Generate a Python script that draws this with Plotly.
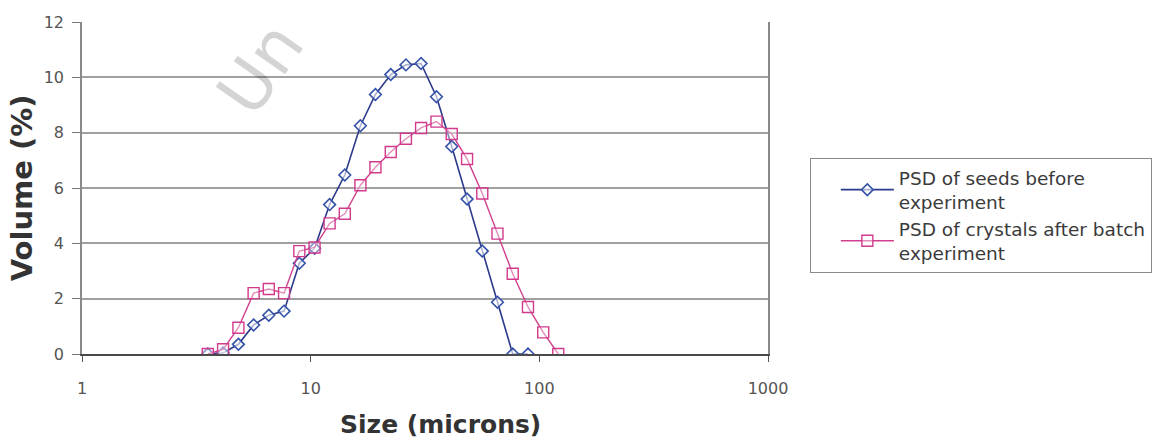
import plotly.graph_objects as go

# Particle size bins (microns)
sizes = [3.55, 4.14, 4.83, 5.63, 6.56, 7.65, 8.92, 10.4, 12.1, 14.1, 16.5, 19.2,
         22.4, 26.1, 30.4, 35.5, 41.4, 48.3, 56.3, 65.6, 76.5, 89.2, 104, 121]

# Volume fraction (%) for the seeds before the experiment (first 22 bins)
seeds_volume = [0, 0.04, 0.35, 1.05, 1.4, 1.55, 3.28, 3.82, 5.4, 6.47, 8.25, 9.38,
                10.1, 10.45, 10.5, 9.3, 7.5, 5.6, 3.72, 1.87, 0, 0]

# Volume fraction (%) for the crystals after the batch experiment
crystals_volume = [0, 0.17, 0.95, 2.2, 2.35, 2.2, 3.72, 3.85, 4.72, 5.07, 6.1, 6.75,
                   7.3, 7.78, 8.17, 8.4, 7.95, 7.05, 5.8, 4.35, 2.9, 1.7, 0.78, 0]

x_ticks = [1, 10, 100, 1000]
y_ticks = [0, 2, 4, 6, 8, 10, 12]

FONT = "DejaVu Sans"

fig = go.Figure()

fig.add_trace(go.Scatter(
    x=sizes[:len(seeds_volume)], y=seeds_volume,
    mode="lines+markers",
    name="PSD of seeds before<br>experiment",
    line=dict(color="#2b3a8a", width=1.6),
    marker=dict(symbol="diamond", size=9, color="rgba(255,255,255,0.6)",
                line=dict(color="#3552a8", width=1.6)),
))

fig.add_trace(go.Scatter(
    x=sizes, y=crystals_volume,
    mode="lines+markers",
    name="PSD of crystals after batch<br>experiment",
    line=dict(color="#d0408e", width=1.4),
    marker=dict(symbol="square", size=11, color="rgba(255,255,255,0.4)",
                line=dict(color="#d23a8c", width=1.4)),
))

fig.update_layout(
    width=1171, height=441,
    margin=dict(l=82, r=403, t=22, b=87),
    paper_bgcolor="white",
    plot_bgcolor="white",
    font=dict(family=FONT, color="#444444"),
    showlegend=True,
    legend=dict(
        x=1.061, y=0.59, xanchor="left", yanchor="top",
        bordercolor="#8a8a8a", borderwidth=1,
        bgcolor="white",
        font=dict(family=FONT, size=18.5, color="#3a3a3a"),
        tracegroupgap=2,
        itemwidth=53,
        indentation=25,
    ),
    xaxis=dict(
        type="log",
        range=[0, 3],
        tickvals=x_ticks,
        ticktext=[str(v) for v in x_ticks],
        ticks="outside", ticklen=6, tickcolor="#555555", tickwidth=1.2,
        ticklabelstandoff=13,
        tickfont=dict(family=FONT, size=16, color="#555555"),
        showgrid=False,
        showline=True, linecolor="#4a4a4a", linewidth=1.6,
        mirror=False,
        zeroline=False,
    ),
    yaxis=dict(
        range=[0, 12],
        tickvals=y_ticks,
        ticks="outside", ticklen=8, tickcolor="#777777", tickwidth=1.2,
        ticklabelstandoff=5,
        tickfont=dict(family=FONT, size=16, color="#555555"),
        showgrid=True, gridcolor="#a0a0a0", gridwidth=1.5,
        showline=True, linecolor="#8a8a8a", linewidth=1.5,
        mirror=True,
        zeroline=False,
    ),
    annotations=[
        dict(text="Size (microns)", xref="paper", yref="paper",
             x=0.523, y=-0.212, xanchor="center", yanchor="middle",
             showarrow=False,
             font=dict(family=FONT, size=25, color="#333333", weight="bold")),
        dict(text="Volume (%)", xref="paper", yref="paper",
             x=-0.087, y=0.5, xanchor="center", yanchor="middle",
             textangle=-90, showarrow=False,
             font=dict(family=FONT, size=29, color="#333333", weight="bold")),
        dict(text="Un", xref="paper", yref="paper",
             x=0.26, y=0.86, xanchor="center", yanchor="middle",
             textangle=-55, showarrow=False,
             font=dict(family=FONT, size=68, color="rgba(0,0,0,0.17)")),
    ],
)

fig.write_html("out.html")
